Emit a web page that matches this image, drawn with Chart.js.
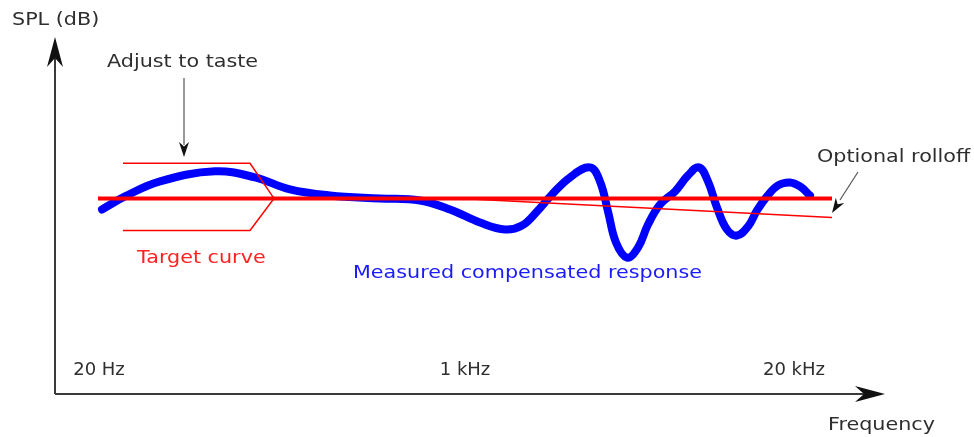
<!DOCTYPE html>
<html lang="en">
<head>
    <meta charset="UTF-8">
    <title>Target curve vs measured response</title>
    <script src="https://cdn.jsdelivr.net/npm/chart.js"></script>
    <style>
        body {
            margin: 0;
            background: #ffffff;
        }

        .chart-box {
            width: 974px;
            height: 437px;
        }
    </style>
</head>
<body>
    <div class="chart-box">
        <canvas id="eqChart"></canvas>
    </div>

    <script>
        // x is position along the frequency axis (arbitrary units), y is level in dB relative to target
        const measuredX = [47, 70, 105, 160, 200, 235, 275, 325, 365, 395, 425, 450, 467, 482, 497, 515, 535, 545, 553, 561, 572, 583, 593, 605, 620, 633, 644, 653, 662, 672, 682, 693, 702, 712, 723, 735, 745, 755];
        const measuredY = [-1.1, 0.2, 1.7, 2.7, 2.1, 0.9, 0.3, 0.0, -0.2, -1.1, -2.4, -3.1, -2.7, -1.3, 0.4, 2.1, 3.1, 1.7, -1.3, -4.4, -5.9, -4.9, -2.6, -0.6, 0.7, 2.3, 3.1, 1.7, -0.9, -3.1, -3.7, -2.8, -1.2, 0.2, 1.3, 1.6, 1.2, 0.3];

        const targetX = [43, 777];
        const targetY = [0, 0];

        const rolloffX = [405, 777];
        const rolloffY = [0, -1.9];

        // "adjust to taste" bracket around the target at the low end
        const bracketX = [68, 195, 219, 195, 68];
        const bracketY = [3.5, 3.5, 0, -3.2, -3.2];

        const tickValues = [44, 410, 739];
        const tickLabels = ['20 Hz', '1 kHz', '20 kHz'];

        const toPoints = (xs, ys) => xs.map((x, i) => ({ x: x, y: ys[i] }));

        const textColor = '#2e2e2e';
        const axisColor = '#3a3a3a';

        function arrowHead(ctx, x, y, angle, len, half) {
            ctx.save();
            ctx.translate(x, y);
            ctx.rotate(angle);
            ctx.beginPath();
            ctx.moveTo(0, 0);
            ctx.lineTo(-len, -half);
            ctx.lineTo(-len * 0.7, 0);
            ctx.lineTo(-len, half);
            ctx.closePath();
            ctx.fill();
            ctx.restore();
        }

        function line(ctx, x1, y1, x2, y2) {
            ctx.beginPath();
            ctx.moveTo(x1, y1);
            ctx.lineTo(x2, y2);
            ctx.stroke();
        }

        // the source artwork has its labels a little wider than the font normally is
        function wideText(ctx, text, x, y) {
            ctx.save();
            ctx.translate(x, y);
            ctx.scale(1.15, 1);
            ctx.fillText(text, 0, 0);
            ctx.restore();
        }

        const diagramPlugin = {
            id: 'diagram',
            afterDraw(chart) {
                const ctx = chart.ctx;
                const area = chart.chartArea;
                const xs = chart.scales.x;

                ctx.save();

                // axes with arrows
                ctx.strokeStyle = axisColor;
                ctx.fillStyle = '#111111';
                ctx.lineWidth = 2;
                line(ctx, area.left, area.bottom, area.left, area.top + 8);
                line(ctx, area.left, area.bottom, area.right - 8, area.bottom);
                arrowHead(ctx, area.left, area.top - 3, -Math.PI / 2, 30, 8);
                arrowHead(ctx, area.right, area.bottom, 0, 30, 8);

                // tick labels sit just above the x axis
                ctx.fillStyle = textColor;
                ctx.font = '18px "DejaVu Sans"';
                ctx.textAlign = 'center';
                ctx.textBaseline = 'alphabetic';
                tickValues.forEach((v, i) => {
                    ctx.fillText(tickLabels[i], xs.getPixelForValue(v), area.bottom - 19);
                });

                ctx.textAlign = 'left';
                ctx.font = '18px "DejaVu Sans"';
                wideText(ctx, 'Frequency', 828, 430);
                wideText(ctx, 'SPL (dB)', 12, 25);

                // annotations
                wideText(ctx, 'Adjust to taste', 107, 67);
                wideText(ctx, 'Optional rolloff', 817, 162);

                ctx.fillStyle = '#ff2020';
                wideText(ctx, 'Target curve', 137, 263);
                ctx.fillStyle = '#1a1aff';
                wideText(ctx, 'Measured compensated response', 353, 278);

                // pointer arrows
                ctx.strokeStyle = '#555555';
                ctx.fillStyle = '#111111';
                ctx.lineWidth = 1.2;
                line(ctx, 184, 78, 184, 145);
                arrowHead(ctx, 184, 157, Math.PI / 2, 15, 5);
                const ang = Math.atan2(213 - 172, 832 - 858);
                line(ctx, 858, 172, 840, 200);
                arrowHead(ctx, 832, 213, ang, 15, 5);

                ctx.restore();
            }
        };

        new Chart(document.getElementById('eqChart'), {
            type: 'line',
            data: {
                datasets: [
                    {
                        label: 'Optional rolloff',
                        data: toPoints(rolloffX, rolloffY),
                        borderColor: '#ff0000',
                        borderWidth: 1.5,
                        pointRadius: 0
                    },
                    {
                        label: 'Bracket',
                        data: toPoints(bracketX, bracketY),
                        borderColor: '#ff0000',
                        borderWidth: 1.5,
                        pointRadius: 0
                    },
                    {
                        label: 'Target curve',
                        data: toPoints(targetX, targetY),
                        borderColor: '#ff0000',
                        borderWidth: 4,
                        pointRadius: 0
                    },
                    {
                        label: 'Measured compensated response',
                        data: toPoints(measuredX, measuredY),
                        borderColor: '#0000ff',
                        borderWidth: 8,
                        borderCapStyle: 'round',
                        borderJoinStyle: 'round',
                        tension: 0.4,
                        pointRadius: 0,
                        order: 5
                    }
                ]
            },
            options: {
                responsive: true,
                maintainAspectRatio: false,
                animation: false,
                layout: {
                    padding: { left: 55, right: 89, top: 40, bottom: 43 }
                },
                plugins: {
                    legend: { display: false },
                    tooltip: { enabled: false }
                },
                scales: {
                    x: { type: 'linear', display: false, min: 0, max: 830 },
                    y: { type: 'linear', display: false, min: -19.5, max: 15.8 }
                }
            },
            plugins: [diagramPlugin]
        });
    </script>
</body>
</html>
